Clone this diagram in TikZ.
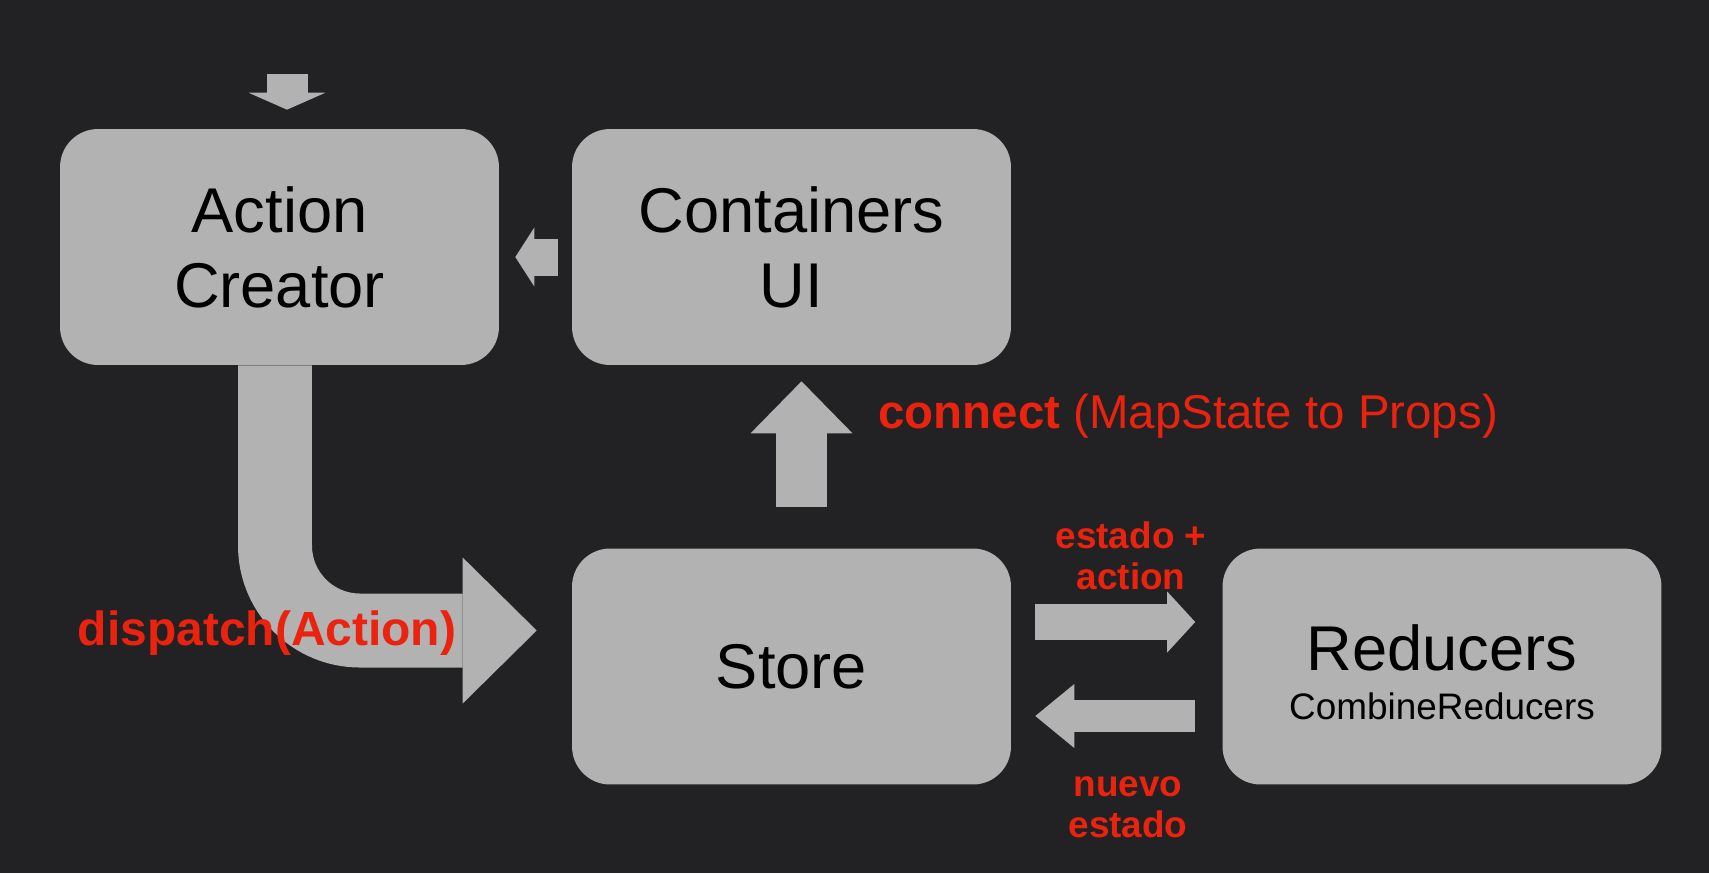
\documentclass[tikz,border=0pt]{standalone}
\usepackage{fontspec}
\setmainfont{Liberation Sans}
\usetikzlibrary{arrows.meta}
\definecolor{bgdark}{RGB}{34,34,36}
\definecolor{boxgray}{RGB}{178,178,178}
\definecolor{labred}{RGB}{234,34,14}
\tikzset{
    box/.style={
        fill=boxgray, rounded corners=0.76cm,
        minimum width=8.78cm, minimum height=4.72cm,
        align=center, text=black, font=\fontsize{36}{42.7}\selectfont
    },
    fatarrow/.style args={#1 #2 #3}{
        draw=boxgray, line width=#1,
        -{Triangle[length=#2, width=#3, line width=0pt]}
    },
    redlabel/.style={
        text=labred, inner sep=0pt, align=center,
        font=\fontsize{21}{23.4}\selectfont\bfseries
    }
}
\begin{document}
\begin{tikzpicture}[x=0.02cm, y=-0.02cm]
    \useasboundingbox[fill=bgdark] (0,0) rectangle (1709,873);
    \node[box] (AC) at (279.5,247) {Action\\Creator};
    \node[box] (CU) at (791.5,247) {Containers\\UI};
    \node[box] (ST) at (791.5,666.5) {Store};
    \node[box, font=\fontsize{36}{28}\selectfont] (RD) at (1442,666.5)
        {Reducers\rule{0pt}{32.6pt}\\{\fontsize{21}{28}\selectfont CombineReducers}};
    % arrows
    \coordinate (feed) at (287,74);
    \draw[fatarrow={0.82cm 0.34cm 1.54cm}, shorten >=0.38cm] (feed) -- (feed |- AC.north);
    \draw[fatarrow={0.74cm 0.38cm 1.18cm}, shorten <=0.28cm, shorten >=0.32cm]
        ([yshift=-0.2cm]CU.west) -- ([yshift=-0.2cm]AC.east);
    \draw[fatarrow={1.02cm 1.04cm 2.04cm}, shorten <=0.82cm, shorten >=0.32cm]
        ([xshift=0.2cm]ST.north) -- ([xshift=0.2cm]CU.south);
    \draw[fatarrow={1.48cm 1.48cm 2.92cm}, rounded corners=1.7cm, shorten >=0.7cm]
        ([xshift=-0.09cm]AC.south) |- ([yshift=0.72cm]ST.west);
    \draw[fatarrow={0.72cm 0.56cm 1.22cm}, shorten <=0.48cm, shorten >=0.54cm]
        ([yshift=0.89cm]ST.east) -- ([yshift=0.89cm]RD.west);
    \draw[fatarrow={0.64cm 0.78cm 1.28cm}, shorten <=0.54cm, shorten >=0.48cm]
        ([yshift=-0.99cm]RD.west) -- ([yshift=-0.99cm]ST.east);
    % labels
    \node[redlabel, anchor=base west, font=\fontsize{27}{30}\selectfont] (conn) at (878,428)
        {\textbf{connect} (MapState to Props)};
    \node[redlabel, anchor=base, font=\fontsize{27.3}{30}\selectfont\bfseries] (disp) at (267,645)
        {dispatch(Action)};
    \node[redlabel] (sa) at (1131,556) {estado +\\action};
    \node[redlabel] (ne) at (1128,807) {nuevo\\estado};
\end{tikzpicture}
\end{document}
